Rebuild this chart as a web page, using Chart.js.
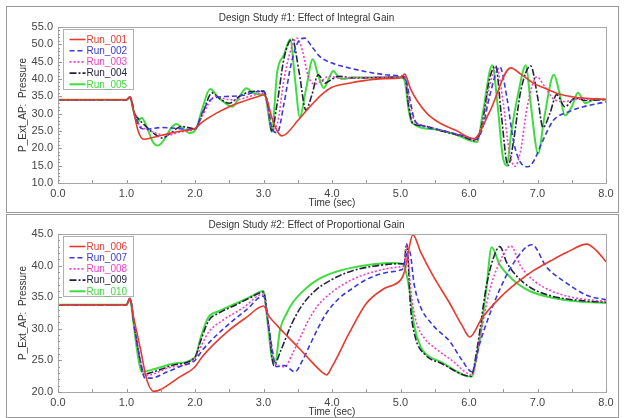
<!DOCTYPE html>
<html>
<head>
<meta charset="utf-8">
<script src="https://cdn.jsdelivr.net/npm/chart.js@4.4.1/dist/chart.umd.min.js"></script>
<style>
  body { margin: 0; background: #fff; }
  .panel { position: absolute; left: 6px; width: 611px; border: 1px solid #999; background: #fff; }
  #box1 { top: 6px; height: 205px; }
  #box2 { top: 214px; height: 202px; }
  canvas { display: block; }
</style>
</head>
<body>
<div class="panel" id="box1"><canvas id="study1" width="611" height="205"></canvas></div>
<div class="panel" id="box2"><canvas id="study2" width="611" height="202"></canvas></div>
<script>
// Design Study #1 - integral gain sweep (time in sec, pressure)
const t001 = [0, 1.0, 1.05, 1.1, 1.17, 1.25, 1.4, 1.6, 1.8, 2.0, 2.1, 2.3, 2.5, 2.7, 2.9, 3.0, 3.05, 3.12, 3.2, 3.27, 3.35, 3.5, 3.7, 3.85, 4.0, 4.25, 4.5, 4.75, 5.0, 5.06, 5.15, 5.25, 5.4, 5.6, 5.8, 6.07, 6.3, 6.61, 6.75, 6.94, 7.15, 7.33, 7.5, 7.67, 8.0];
const p001 = [34, 34, 34.8, 31, 25, 22.6, 23.2, 24.2, 25, 25.7, 27.5, 30, 32, 33.5, 34.8, 35.4, 34, 29, 25, 23.6, 24.5, 28, 32.5, 35.5, 37.6, 38.8, 39.6, 40.1, 40.3, 41.4, 37, 33.5, 29.8, 27, 25.3, 22.8, 30.5, 43.2, 41.5, 38.8, 37, 35.6, 34.9, 34.5, 34.1];

const t002 = [0, 1.0, 1.05, 1.12, 1.2, 1.3, 1.5, 1.7, 1.9, 2.0, 2.1, 2.2, 2.35, 2.5, 2.7, 2.9, 3.0, 3.06, 3.12, 3.2, 3.3, 3.4, 3.5, 3.6, 3.7, 3.82, 4.0, 4.25, 4.5, 4.75, 5.0, 5.07, 5.12, 5.2, 5.3, 5.6, 5.9, 6.1, 6.2, 6.3, 6.45, 6.55, 6.65, 6.75, 6.86, 6.95, 7.05, 7.23, 7.45, 7.67, 8.0];
const p002 = [34, 34, 34.8, 30, 26, 25.5, 26, 25.8, 25.5, 25.6, 30, 33.5, 34.8, 35, 35.3, 36.3, 36.5, 33, 26, 24.5, 33, 44, 50.5, 51.8, 49.5, 46.5, 44.6, 43.2, 42.1, 41.3, 40.9, 40.5, 36, 28.5, 26.7, 25.2, 23.7, 22.6, 26, 35, 43.5, 35, 22, 16, 14.7, 16.5, 21, 28, 30.5, 32, 33.4];

const t003 = [0, 1.0, 1.05, 1.12, 1.2, 1.3, 1.45, 1.6, 1.8, 2.0, 2.1, 2.2, 2.3, 2.45, 2.6, 2.8, 3.0, 3.06, 3.13, 3.2, 3.3, 3.4, 3.49, 3.57, 3.65, 3.75, 3.85, 3.95, 4.1, 4.5, 5.0, 5.07, 5.13, 5.2, 5.3, 5.6, 5.9, 6.1, 6.2, 6.3, 6.4, 6.5, 6.58, 6.67, 6.75, 6.85, 6.99, 7.1, 7.25, 7.4, 7.6, 8.0];
const p003 = [34, 34, 34.8, 30, 26.5, 25.5, 24.2, 23.8, 24.8, 25.6, 29, 33, 35, 34.2, 34, 35, 36, 32, 25.5, 27, 40, 48.5, 51.8, 48, 41, 38.5, 39.5, 40.8, 40.3, 40.4, 40.6, 40.2, 33, 28, 26.8, 25.2, 23.7, 22.4, 27, 38, 43.5, 33, 20, 14.8, 19, 32, 40.6, 38, 34, 33.5, 34.2, 34.1];

const t004 = [0, 1.0, 1.05, 1.12, 1.2, 1.3, 1.42, 1.52, 1.65, 1.8, 1.9, 2.0, 2.1, 2.25, 2.35, 2.5, 2.65, 2.8, 3.0, 3.06, 3.12, 3.2, 3.3, 3.42, 3.52, 3.62, 3.7, 3.8, 3.9, 4.0, 4.1, 4.3, 5.0, 5.07, 5.12, 5.18, 5.3, 5.6, 5.9, 6.1, 6.2, 6.3, 6.39, 6.47, 6.57, 6.65, 6.75, 6.9, 7.0, 7.08, 7.18, 7.28, 7.4, 7.55, 7.7, 8.0];
const p004 = [34, 34, 34.8, 30, 28, 26, 24, 23, 24.5, 26.3, 26, 25.6, 29.5, 36, 34.5, 33, 35, 36.3, 36.5, 33, 25, 33, 46, 51.5, 42, 31, 35, 41.2, 38.8, 40, 40.8, 40.3, 40.5, 40, 32, 27.2, 26.6, 25, 23.5, 22.2, 28, 40, 43.8, 30, 15, 22, 36, 43.8, 35, 26, 30, 35.5, 32, 34.5, 33.8, 34.1];

const t005 = [0, 1.0, 1.05, 1.1, 1.16, 1.22, 1.3, 1.38, 1.46, 1.55, 1.65, 1.73, 1.82, 1.93, 2.02, 2.1, 2.22, 2.35, 2.55, 2.65, 2.75, 2.85, 2.95, 3.02, 3.07, 3.12, 3.2, 3.3, 3.39, 3.46, 3.53, 3.62, 3.72, 3.8, 3.88, 3.95, 4.02, 4.1, 4.18, 4.3, 4.6, 5.0, 5.06, 5.12, 5.17, 5.5, 5.8, 6.12, 6.2, 6.34, 6.42, 6.49, 6.55, 6.62, 6.72, 6.83, 6.9, 7.01, 7.1, 7.24, 7.32, 7.4, 7.5, 7.59, 7.7, 7.85, 8.0];
const p005 = [34, 34, 34.8, 31, 27.5, 28.8, 26, 22, 20.8, 22.5, 25.8, 27, 25.8, 24.4, 25.8, 31, 37.1, 34.5, 32, 35, 37.3, 36, 35.5, 35.8, 30, 24.7, 42, 47, 51.5, 40, 29, 37, 45.7, 41, 37.4, 40, 42.3, 40.4, 40, 40.5, 40.4, 40.6, 39.5, 31, 27.3, 25.5, 24, 21.8, 30, 44, 32, 18, 15, 25, 36, 44, 33, 18.5, 29, 41.2, 36, 29.5, 32, 36, 33, 34.3, 34];

// Design Study #2 - proportional gain sweep
const t006 = [0, 1.0, 1.05, 1.1, 1.2, 1.3, 1.4, 1.5, 1.75, 2.0, 2.1, 2.25, 2.5, 2.75, 3.0, 3.08, 3.2, 3.35, 3.53, 3.7, 3.85, 3.92, 4.0, 4.26, 4.5, 4.75, 5.0, 5.04, 5.07, 5.12, 5.18, 5.3, 5.47, 5.72, 5.9, 6.01, 6.19, 6.45, 6.7, 6.94, 7.2, 7.43, 7.72, 7.85, 8.0];
const p006 = [33.8, 33.8, 34.8, 32, 27, 21.8, 20.1, 20.4, 22.2, 24, 25.5, 27.3, 29.8, 31.8, 33.6, 32, 30.5, 28.8, 26.8, 24.8, 23.2, 22.7, 24, 29.5, 34, 36.3, 37.7, 38.5, 39.5, 42.5, 44.9, 42, 38.5, 34, 30.5, 28.7, 31.7, 34.9, 37.3, 39.2, 40.8, 42.1, 43.4, 42.5, 40.6];

const t007 = [0, 1.0, 1.05, 1.12, 1.2, 1.27, 1.35, 1.6, 1.8, 2.0, 2.1, 2.25, 2.5, 2.75, 3.0, 3.08, 3.19, 3.3, 3.46, 3.57, 3.68, 3.8, 3.92, 4.1, 4.26, 4.5, 4.75, 5.0, 5.04, 5.08, 5.13, 5.2, 5.28, 5.47, 5.72, 5.9, 6.04, 6.16, 6.4, 6.65, 6.92, 7.13, 7.43, 7.72, 8.0];
const p007 = [33.8, 33.8, 34.8, 30, 25, 22.2, 22.2, 23.2, 24.1, 25, 26.5, 28.3, 30.8, 33, 35.2, 30, 24, 24.2, 23.2, 25, 27.5, 30.2, 32.5, 34.8, 36.1, 37.8, 38.8, 39.3, 39.6, 41.5, 42.3, 37, 33.8, 30.6, 28, 25, 23.2, 27.8, 35, 40.4, 43.3, 39.8, 37.2, 35.3, 34.6];

const t008 = [0, 1.0, 1.05, 1.12, 1.2, 1.27, 1.35, 1.6, 2.0, 2.1, 2.2, 2.4, 2.7, 3.0, 3.08, 3.17, 3.31, 3.42, 3.53, 3.65, 3.78, 4.0, 4.26, 4.6, 5.0, 5.05, 5.09, 5.15, 5.22, 5.35, 5.5, 5.75, 6.05, 6.15, 6.3, 6.45, 6.61, 6.75, 6.95, 7.2, 7.5, 8.0];
const p008 = [33.8, 33.8, 34.8, 30, 25, 22.6, 22.7, 23.8, 25.3, 27.5, 29.5, 31.3, 33.3, 35.5, 30, 24.5, 24, 26, 28.5, 31.2, 33.5, 35.8, 37.6, 39, 39.8, 40, 43.2, 36, 31.5, 28.5, 27, 25, 22.7, 28, 36, 40.6, 43.1, 40, 37.6, 36, 35, 34.3];

const t009 = [0, 1.0, 1.05, 1.12, 1.2, 1.25, 1.4, 1.7, 2.0, 2.08, 2.2, 2.35, 2.6, 2.8, 3.0, 3.08, 3.15, 3.25, 3.4, 3.55, 3.75, 4.0, 4.3, 4.6, 5.0, 5.05, 5.09, 5.15, 5.22, 5.35, 5.6, 6.03, 6.12, 6.25, 6.35, 6.45, 6.55, 6.7, 6.9, 7.2, 7.6, 8.0];
const p009 = [33.8, 33.8, 34.8, 30, 25, 22.8, 23.2, 24.3, 25.5, 28, 31.3, 32.5, 33.8, 34.9, 35.8, 30, 24.2, 26.5, 30.5, 33.5, 36, 37.8, 39.2, 39.9, 40.3, 40.3, 43.5, 33, 28.5, 26, 24.5, 22.5, 27, 36.5, 41, 43, 40.5, 38.3, 36.5, 35.2, 34.5, 34.2];

const t010 = [0, 1.0, 1.05, 1.1, 1.17, 1.22, 1.4, 1.7, 2.0, 2.08, 2.19, 2.35, 2.6, 2.8, 3.0, 3.06, 3.12, 3.17, 3.24, 3.34, 3.43, 3.6, 3.78, 4.0, 4.26, 4.6, 4.9, 5.04, 5.1, 5.14, 5.2, 5.3, 5.38, 5.58, 6.04, 6.1, 6.16, 6.25, 6.33, 6.45, 6.6, 6.7, 6.9, 7.18, 7.6, 8.0];
const p010 = [33.8, 33.8, 34.8, 31, 25.5, 23.2, 23.6, 24.5, 25.5, 28.5, 31.7, 32.8, 34, 35, 36, 31, 25.5, 24.6, 29.8, 32.5, 34.2, 36.2, 37.7, 38.8, 39.6, 40.2, 40.4, 40.2, 38, 35.5, 30.5, 27, 25.9, 24.8, 22.4, 25, 28.5, 36, 42.9, 40.1, 38.2, 37.2, 35.9, 35, 34.3, 34.1];

// line styles shared by both studies (run 1..5 of each)
const runColors = ['#e8392f', '#3a3ad8', '#f23fc4', '#23233f', '#3fdc3f'];
const runDashes = [[], [5, 3], [2, 2], [7, 2, 2, 2], []];
const runWidths = [1.6, 1.6, 1.6, 1.6, 2];

function pairs(ts, ps) {
  return ts.map((t, i) => ({ x: t, y: ps[i] }));
}

function makeDatasets(names, series) {
  return names.map((name, i) => ({
    label: name,
    data: pairs(series[i][0], series[i][1]),
    borderColor: runColors[i],
    borderDash: runDashes[i],
    borderWidth: runWidths[i],
    pointRadius: 0,
    cubicInterpolationMode: 'monotone',
    fill: false
  }));
}

// plot frame, small inward tick marks and inset legend
const framePlugin = {
  id: 'frameLegend',
  afterDatasetsDraw(chart) {
    const ctx = chart.ctx;
    const a = chart.chartArea;
    const xs = chart.scales.x, ys = chart.scales.y;
    ctx.save();
    ctx.strokeStyle = '#a8a8a8';
    ctx.lineWidth = 1;
    ctx.strokeRect(Math.round(a.left) + 0.5, Math.round(a.top) + 0.5,
      Math.round(a.right - a.left), Math.round(a.bottom - a.top));

    ctx.strokeStyle = '#999';
    ctx.beginPath();
    for (let v = xs.min; v <= xs.max + 1e-9; v += 0.5) {
      const px = Math.round(xs.getPixelForValue(v)) + 0.5;
      ctx.moveTo(px, a.bottom);
      ctx.lineTo(px, a.bottom - 3);
    }
    for (let v = ys.min; v <= ys.max + 1e-9; v += 1) {
      const py = Math.round(ys.getPixelForValue(v)) + 0.5;
      const len = v % 5 === 0 ? 4 : 2;
      ctx.moveTo(a.left, py);
      ctx.lineTo(a.left + len, py);
    }
    ctx.stroke();

    const bx = Math.round(a.left) + 5.5;
    const by = Math.round(a.top) + 2.5;
    ctx.fillStyle = '#fff';
    ctx.fillRect(bx, by, 70, 60);
    ctx.strokeStyle = '#b0b0b0';
    ctx.strokeRect(bx, by, 70, 60);
    ctx.font = '10px "Liberation Sans", Arial, sans-serif';
    ctx.textBaseline = 'middle';
    chart.data.datasets.forEach((ds, i) => {
      const y = by + 10 + i * 11.2;
      ctx.strokeStyle = ds.borderColor;
      ctx.lineWidth = ds.borderWidth;
      ctx.setLineDash(ds.borderDash);
      ctx.beginPath();
      ctx.moveTo(bx + 6, y);
      ctx.lineTo(bx + 22, y);
      ctx.stroke();
      ctx.setLineDash([]);
      ctx.fillStyle = ds.borderColor;
      ctx.fillText(ds.label, bx + 23, y + 0.5);
    });
    ctx.restore();
  }
};

function makeChart(id, title, names, series, yMin, yMax, plotTop, xAxisH) {
  const tickFont = { family: '"Liberation Sans", Arial, sans-serif', size: 11 };
  const labelFont = { family: '"Liberation Sans", Arial, sans-serif', size: 10, weight: 'normal' };
  return new Chart(document.getElementById(id), {
    type: 'line',
    data: { datasets: makeDatasets(names, series) },
    options: {
      responsive: false,
      animation: false,
      events: [],
      layout: { padding: { left: 0, right: 12, top: 0, bottom: 0 } },
      plugins: {
        legend: { display: false },
        tooltip: { enabled: false },
        title: {
          display: true,
          text: title,
          color: '#333',
          font: labelFont,
          padding: { top: plotTop - 15, bottom: 3 }
        }
      },
      scales: {
        x: {
          type: 'linear',
          min: 0,
          max: 8,
          afterFit(scale) { scale.height = xAxisH; },
          border: { display: false },
          grid: { display: false, drawTicks: false },
          ticks: {
            stepSize: 1,
            autoSkip: false,
            maxRotation: 0,
            padding: 4,
            color: '#444',
            font: tickFont,
            callback: v => v.toFixed(1)
          },
          title: {
            display: true,
            text: 'Time (sec)',
            color: '#333',
            font: labelFont,
            padding: { top: 0, bottom: xAxisH - 26 }
          }
        },
        y: {
          min: yMin,
          max: yMax,
          afterFit(scale) { scale.width = 51; },
          border: { display: false },
          grid: { display: false, drawTicks: false },
          ticks: {
            stepSize: 5,
            autoSkip: false,
            padding: 5,
            color: '#444',
            font: tickFont,
            callback: v => v.toFixed(1)
          },
          title: {
            display: true,
            text: 'P_Ext_AP:  Pressure',
            color: '#333',
            font: labelFont,
            padding: { top: 10, bottom: 0 }
          }
        }
      }
    },
    plugins: [framePlugin]
  });
}

makeChart('study1', 'Design Study #1: Effect of Integral Gain',
  ['Run_001', 'Run_002', 'Run_003', 'Run_004', 'Run_005'],
  [[t001, p001], [t002, p002], [t003, p003], [t004, p004], [t005, p005]],
  10, 55, 20, 29);

makeChart('study2', 'Design Study #2: Effect of Proportional Gain',
  ['Run_006', 'Run_007', 'Run_008', 'Run_009', 'Run_010'],
  [[t006, p006], [t007, p007], [t008, p008], [t009, p009], [t010, p010]],
  20, 45, 19, 25);
</script>
</body>
</html>
